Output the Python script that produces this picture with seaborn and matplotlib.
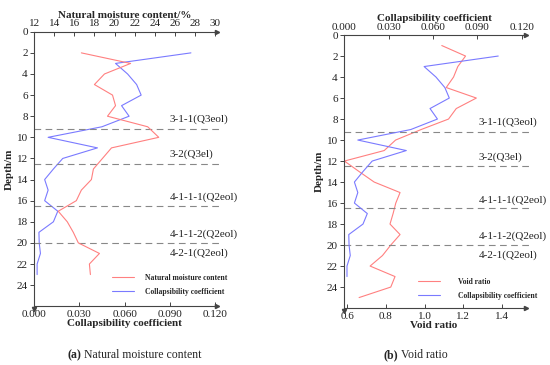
import numpy as np
import pandas as pd
import matplotlib
matplotlib.use("Agg")
import matplotlib.pyplot as plt
import seaborn as sns

# values
depth_w = list(range(2, 24))
moisture = [16.7, 21.6, 19.0, 18.0, 19.8, 20.1, 19.3, 23.3, 24.4, 19.7, 18.8,
            17.9, 17.7, 16.7, 16.2, 14.4, 15.3, 15.9, 16.4, 18.5, 17.5, 17.6]
collapse = [0.104, 0.054, 0.062, 0.068, 0.071, 0.058, 0.063, 0.045, 0.0093, 0.042, 0.019,
            0.0128, 0.007, 0.0093, 0.007, 0.0157, 0.0128, 0.0032, 0.0034, 0.0042, 0.002, 0.002]
depth_e = list(range(1, 26))
void_ratio = [1.089, 1.212, 1.172, 1.150, 1.112, 1.268, 1.164, 1.124, 0.982, 0.85, 0.791,
              0.585, 0.661, 0.739, 0.873, 0.851, 0.837, 0.821, 0.873, 0.825, 0.782,
              0.718, 0.847, 0.825, 0.661]

layer_depths = [9.2, 12.5, 16.5, 20.0]
layer_names = ["3-1-1(Q3eol)", "3-2(Q3el)", "4-1-1-1(Q2eol)", "4-1-1-2(Q2eol)", "4-2-1(Q2eol)"]
name_depths = [8.3, 11.6, 15.7, 19.2, 21.0]

moist_ticks = list(range(12, 31, 2))
coef_ticks = [0.0, 0.03, 0.06, 0.09, 0.12]
coef_labels = ["0.000", "0.030", "0.060", "0.090", "0.120"]
void_ticks = [0.6, 0.8, 1.0, 1.2, 1.4]
depth_ticks = list(range(0, 25, 2))

sns.set_style("ticks")
plt.rcParams['font.family'] = ['Liberation Serif', 'DejaVu Serif']
plt.rcParams['font.size'] = 8

RED = "#ff8080"
BLUE = "#7a7aff"
AX = "#444444"

fig = plt.figure(figsize=(5.5, 3.65), dpi=100)


def style_pair(ax_b, ax_t):
    for sp in ["top", "right"]:
        ax_b.spines[sp].set_visible(False)
    for sp in ["left", "bottom", "right"]:
        ax_t.spines[sp].set_visible(False)
    for a in (ax_b, ax_t):
        for sp in a.spines.values():
            sp.set_color(AX)
            sp.set_linewidth(0.8)
        a.tick_params(colors=AX, labelcolor="#222222", length=3, width=0.7, pad=1.5,
                      labelsize=8)
        a.tick_params(axis="x", direction="in", pad=2.5)
    ax_b.set_ylim(26, 0)
    ax_b.set_yticks(depth_ticks)
    ax_b.set_ylabel("Depth/m", fontweight="bold", fontsize=8, labelpad=2)
    # arrow heads on the axes
    ax_b.plot([1.01], [0], marker=">", ms=3, color=AX, transform=ax_b.transAxes, clip_on=False)
    ax_b.plot([1.01], [1], marker=">", ms=3, color=AX, transform=ax_b.transAxes, clip_on=False)
    ax_b.plot([0], [-0.01], marker="v", ms=3, color=AX, transform=ax_b.transAxes, clip_on=False)
    trans = ax_b.get_yaxis_transform()
    for d in layer_depths:
        ax_b.plot([0, 1.03], [d, d], ls=(0, (6, 4)), color="#888888", lw=0.8,
                  transform=trans, clip_on=False)
    for name, d in zip(layer_names, name_depths):
        ax_b.text(0.75, d, name, transform=trans, fontsize=8, color="#222222",
                  va="center", ha="left", clip_on=False)


# (a) natural moisture content
axa = fig.add_axes([0.062, 0.161, 0.329, 0.752])
axa_t = axa.twiny()
sns.lineplot(x=collapse, y=depth_w, sort=False, estimator=None, color=BLUE, lw=0.8, ax=axa)
sns.lineplot(x=moisture, y=depth_w, sort=False, estimator=None, color=RED, lw=0.8, ax=axa_t)
axa.set_xlim(0, 0.12)
axa.set_xticks(coef_ticks)
axa.set_xticklabels(coef_labels, fontsize=8.8)
axa_t.set_xlim(12, 30)
axa_t.set_xticks(moist_ticks)
axa.set_xlabel("Collapsibility coefficient", fontweight="bold", fontsize=8, labelpad=0)
axa_t.set_xlabel("Natural moisture content/%", fontweight="bold", fontsize=8, labelpad=1)
style_pair(axa, axa_t)
h_red = plt.Line2D([], [], color=RED, lw=0.8)
h_blue = plt.Line2D([], [], color=BLUE, lw=0.8)
axa_t.legend([h_red, h_blue], ["Natural moisture content", "Collapsibility coefficient"],
             loc="upper left", bbox_to_anchor=(112 / 550, 1 - 274 / 365),
             bbox_transform=fig.transFigure, frameon=False, borderpad=0, borderaxespad=0,
             prop={"weight": "bold", "size": 5.5}, handlelength=2.9, handletextpad=1.4,
             labelspacing=0.75)

# (b) void ratio
axb = fig.add_axes([0.6255, 0.156, 0.327, 0.748])
axb_t = axb.twiny()
sns.lineplot(x=void_ratio, y=depth_e, sort=False, estimator=None, color=RED, lw=0.8, ax=axb)
sns.lineplot(x=collapse, y=depth_w, sort=False, estimator=None, color=BLUE, lw=0.8, ax=axb_t)
axb.set_xlim(0.583, 1.514)
axb.set_xticks(void_ticks)
axb_t.set_xlim(0, 0.1213)
axb_t.set_xticks(coef_ticks)
axb_t.set_xticklabels(coef_labels, fontsize=8.8)
axb.set_xlabel("Void ratio", fontweight="bold", fontsize=8, labelpad=0)
axb_t.set_xlabel("Collapsibility coefficient", fontweight="bold", fontsize=8, labelpad=1)
style_pair(axb, axb_t)
axb_t.legend([h_red, h_blue], ["Void ratio", "Collapsibility coefficient"],
             loc="upper left", bbox_to_anchor=(418 / 550, 1 - 278 / 365),
             bbox_transform=fig.transFigure, frameon=False, borderpad=0, borderaxespad=0,
             prop={"weight": "bold", "size": 5.5}, handlelength=2.9, handletextpad=2.3,
             labelspacing=0.75)

# captions
fig.text(81 / 550, 1 - 355 / 365, "(a)", fontweight="bold", fontsize=8.5, ha="right", va="center")
fig.text(84 / 550, 1 - 355 / 365, "Natural moisture content", fontsize=8.5, ha="left", va="center")
fig.text(398 / 550, 1 - 355 / 365, "(b)", fontweight="bold", fontsize=8.5, ha="right", va="center")
fig.text(401 / 550, 1 - 355 / 365, "Void ratio", fontsize=8.5, ha="left", va="center")

fig.savefig("out.png", dpi=100)
